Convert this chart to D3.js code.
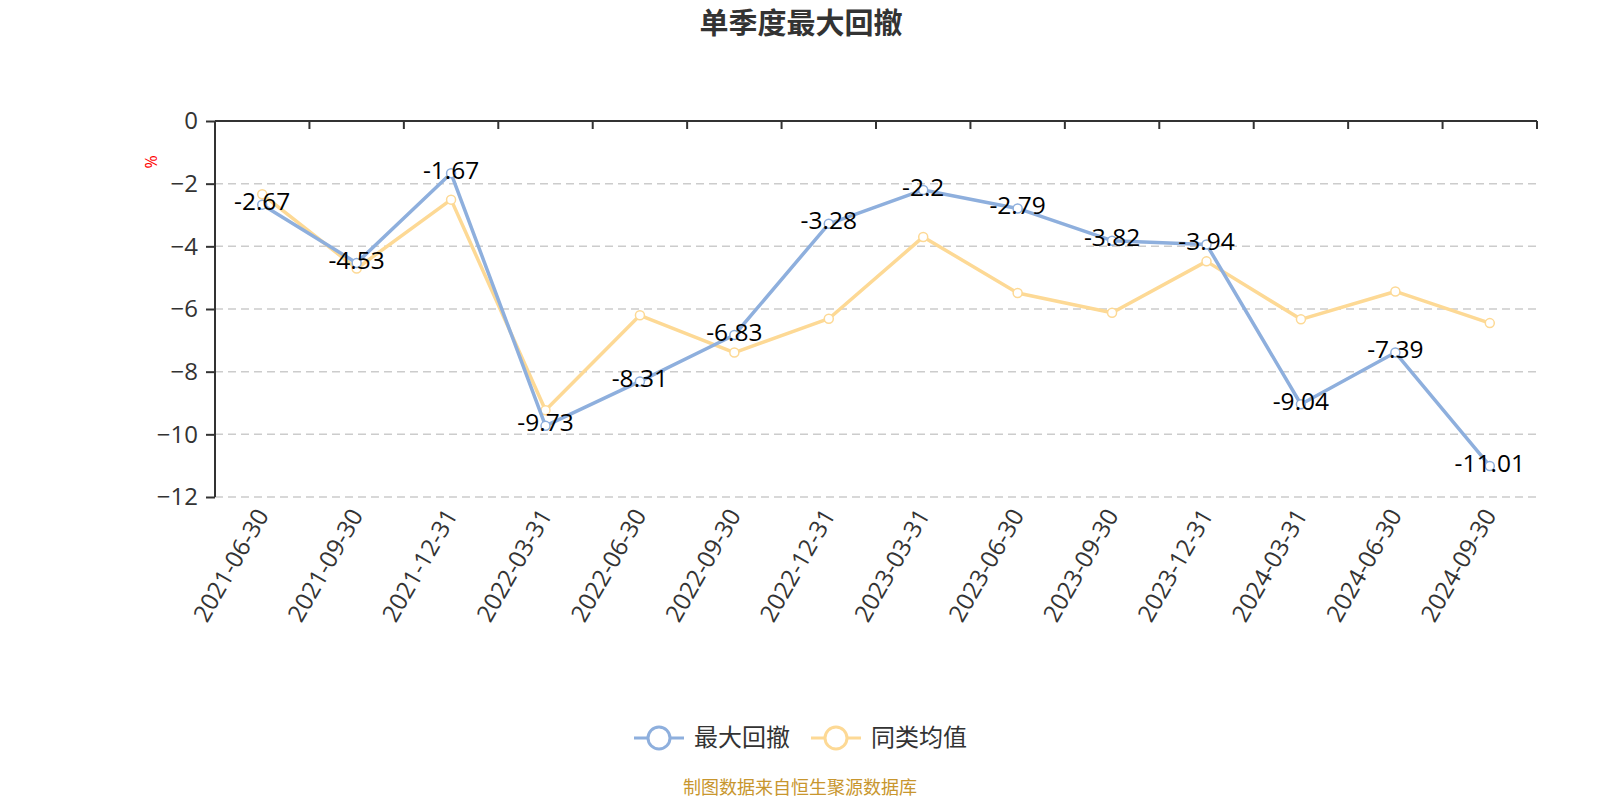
<!DOCTYPE html>
<html>
<head>
<meta charset="utf-8">
<script src="https://cdn.jsdelivr.net/npm/d3@7"></script>
<style>
  body { margin: 0; background: #fff; }
  text { font-family: "Open Sans", "Noto Sans CJK SC", sans-serif; }
</style>
</head>
<body>
<div id="chart"></div>
<script>
////////// Data //////////
var quarters = ["2021-06-30", "2021-09-30", "2021-12-31", "2022-03-31", "2022-06-30", "2022-09-30",
  "2022-12-31", "2023-03-31", "2023-06-30", "2023-09-30", "2023-12-31", "2024-03-31", "2024-06-30", "2024-09-30"];
var maxDrawdown = [-2.67, -4.53, -1.67, -9.73, -8.31, -6.83, -3.28, -2.2, -2.79, -3.82, -3.94, -9.04, -7.39, -11.01];
var peerAverage = [-2.34, -4.71, -2.51, -9.23, -6.2, -7.39, -6.31, -3.7, -5.49, -6.12, -4.48, -6.33, -5.44, -6.45];
var yTicks = [0, -2, -4, -6, -8, -10, -12];
var seriesNames = ["最大回撤", "同类均值"];
var colors = ["#8eafdd", "#fdd995"];

////////// Chart Parameters //////////
var svgWidth = 1600;
var svgHeight = 800;
var margin = { top: 121, right: 63, bottom: 303, left: 215 };
var width = svgWidth - margin.left - margin.right;
var height = svgHeight - margin.top - margin.bottom;

var svg = d3.select("#chart").append("svg")
  .attr("width", svgWidth)
  .attr("height", svgHeight);

// title
svg.append("text")
  .attr("x", 801)
  .attr("y", 34)
  .attr("text-anchor", "middle")
  .style("font-size", "29px")
  .style("font-weight", "bold")
  .style("font-family", "'Noto Sans CJK SC', sans-serif")
  .attr("fill", "#333")
  .text("单季度最大回撤");

var chartGroup = svg.append("g")
  .attr("transform", `translate(${margin.left}, ${margin.top})`);

////////// Scales //////////
var xScale = d3.scaleBand()
  .domain(quarters)
  .range([0, width]);

var yScale = d3.scaleLinear()
  .domain([0, -12])
  .range([0, height]);

////////// Grid lines //////////
chartGroup.selectAll("line.grid")
  .data(yTicks.filter(d => d !== 0))
  .enter()
  .append("line")
  .attr("class", "grid")
  .attr("x1", 0)
  .attr("x2", width)
  .attr("y1", d => yScale(d))
  .attr("y2", d => yScale(d))
  .attr("stroke", "#ccc")
  .attr("stroke-width", 1.5)
  .attr("stroke-dasharray", "8,5");

////////// Axes //////////
var yAxis = d3.axisLeft(yScale).tickValues(yTicks).tickSize(9).tickPadding(8);
var yAxisG = chartGroup.append("g").call(yAxis);
yAxisG.select(".domain").attr("stroke", "#333").attr("stroke-width", 2)
  .attr("d", `M0,0V${height}`);
yAxisG.selectAll(".tick line").attr("stroke", "#333").attr("stroke-width", 2);
yAxisG.selectAll(".tick text")
  .attr("fill", "#333")
  .style("font-size", "24px");

// category axis sits on the zero line (top)
var xAxisG = chartGroup.append("g");
xAxisG.append("line")
  .attr("x1", 0).attr("x2", width)
  .attr("y1", 0).attr("y2", 0)
  .attr("stroke", "#333").attr("stroke-width", 2);
xAxisG.selectAll("line.xtick")
  .data(quarters.concat(["end"]))
  .enter()
  .append("line")
  .attr("class", "xtick")
  .attr("x1", (d, i) => i * xScale.step())
  .attr("x2", (d, i) => i * xScale.step())
  .attr("y1", 0).attr("y2", 8)
  .attr("stroke", "#333").attr("stroke-width", 2);

// category labels below the plot
chartGroup.selectAll("text.xlabel")
  .data(quarters)
  .enter()
  .append("text")
  .attr("class", "xlabel")
  .attr("text-anchor", "end")
  .attr("fill", "#333")
  .style("font-size", "24px")
  .attr("transform", d => `translate(${xScale(d) + xScale.bandwidth() / 2}, ${height + 14}) rotate(-60)`)
  .attr("dy", "0.35em")
  .text(d => d);

// y unit
svg.append("text")
  .attr("transform", "translate(157, 162) rotate(-90)")
  .attr("text-anchor", "middle")
  .attr("fill", "red")
  .style("font-size", "16px")
  .text("%");

////////// Lines //////////
var line = d3.line()
  .x((d, i) => xScale(quarters[i]) + xScale.bandwidth() / 2)
  .y(d => yScale(d));

[peerAverage, maxDrawdown].forEach(function (values, k) {
  var color = k === 0 ? colors[1] : colors[0];
  chartGroup.append("path")
    .datum(values)
    .attr("fill", "none")
    .attr("stroke", color)
    .attr("stroke-width", 3.5)
    .attr("stroke-linejoin", "round")
    .attr("d", line);
  chartGroup.selectAll(null)
    .data(values)
    .enter()
    .append("circle")
    .attr("cx", (d, i) => xScale(quarters[i]) + xScale.bandwidth() / 2)
    .attr("cy", d => yScale(d))
    .attr("r", 4.5)
    .attr("fill", "#fff")
    .attr("stroke", color)
    .attr("stroke-width", 1.5);
});

// data labels for 最大回撤
chartGroup.selectAll("text.dlabel")
  .data(maxDrawdown)
  .enter()
  .append("text")
  .attr("class", "dlabel")
  .attr("x", (d, i) => xScale(quarters[i]) + xScale.bandwidth() / 2)
  .attr("y", d => yScale(d) - 3)
  .attr("dy", "0.35em")
  .attr("text-anchor", "middle")
  .attr("fill", "#000")
  .style("font-size", "24.5px")
  .text(d => d);

////////// Legend //////////
var legendX = [634, 811];
seriesNames.forEach(function (name, i) {
  var g = svg.append("g").attr("transform", `translate(${legendX[i]}, 738)`);
  g.append("line")
    .attr("x1", 0).attr("x2", 50)
    .attr("stroke", colors[i]).attr("stroke-width", 3);
  g.append("circle")
    .attr("cx", 25).attr("r", 11)
    .attr("fill", "#fff")
    .attr("stroke", colors[i]).attr("stroke-width", 3);
  g.append("text")
    .attr("x", 60)
    .attr("dy", "0.35em")
    .attr("fill", "#333")
    .style("font-size", "24px")
    .text(name);
});

// source note
svg.append("text")
  .attr("x", 800)
  .attr("y", 788)
  .attr("dy", "0.35em")
  .attr("text-anchor", "middle")
  .attr("fill", "#c8962e")
  .style("font-size", "18px")
  .text("制图数据来自恒生聚源数据库");
</script>
</body>
</html>
